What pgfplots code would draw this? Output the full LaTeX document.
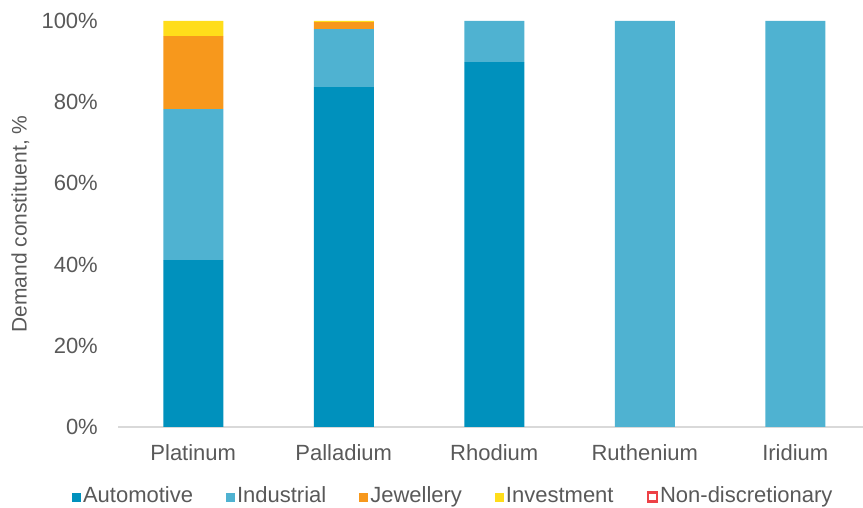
\documentclass[border=0pt]{standalone}
\usepackage{fontspec}
\setmainfont{Liberation Sans}
\usepackage{pgfplots}
\pgfplotsset{compat=1.18}
\definecolor{auto}{RGB}{0,145,189}
\definecolor{indus}{RGB}{79,178,209}
\definecolor{jewel}{RGB}{247,152,28}
\definecolor{invest}{RGB}{255,221,26}
\definecolor{nondis}{RGB}{237,65,70}
\definecolor{txt}{RGB}{89,89,89}
\definecolor{base}{RGB}{217,217,217}
\begin{document}
\begin{tikzpicture}
\useasboundingbox (0,0) rectangle (863bp,508bp);
\begin{axis}[
  at={(118bp,81bp)}, anchor=south west,
  scale only axis, width=745bp, height=406bp,
  ybar stacked, bar width=60bp,
  xmin=-0.5, xmax=4.45, ymin=0, ymax=100,
  xtick={0,1,2,3,4},
  xticklabels={Platinum,Palladium,Rhodium,Ruthenium,Iridium},
  ytick={0,20,40,60,80,100},
  yticklabel={\pgfmathprintnumber{\tick}\%},
  /pgf/number format/assume math mode=true,
  major tick length=0pt,
  axis y line*=left,
  y axis line style={draw=none},
  axis x line*=bottom,
  x axis line style={base, line width=1.2bp, -},
  tick label style={txt, font=\fontsize{22bp}{25bp}\selectfont},
  yticklabel style={anchor=east, inner sep=0pt, xshift=-20bp},
  xticklabel style={anchor=north, inner sep=0pt, yshift=-17bp},
  ylabel={Demand constituent, \%},
  label style={font=\fontsize{21bp}{24bp}\selectfont},
  ylabel style={txt, at={(axis description cs:-0.131,0.5)}, anchor=center, rotate=0},
  legend columns=5,
  legend style={draw=none, fill=none, at={(0.45,-0.177)}, anchor=center,
    text=txt, font=\fontsize{22bp}{25bp}\selectfont,
    nodes={text depth=0.3ex, text height=1.7ex},
    /tikz/every even column/.append style={column sep=31bp},
    /tikz/every odd column/.append style={column sep=0bp},
    inner sep=0pt},
  legend cell align=left,
  legend image code/.code={\fill[#1] (0bp,-2.5bp) rectangle (9bp,6.5bp);},
]
\addplot[fill=auto, draw=none] coordinates {(0,41.1) (1,83.7) (2,89.9) (3,0) (4,0)};
\addplot[fill=indus, draw=none] coordinates {(0,37.2) (1,14.3) (2,10.1) (3,100) (4,100)};
\addplot[fill=jewel, draw=none] coordinates {(0,18.0) (1,1.7) (2,0) (3,0) (4,0)};
\addplot[fill=invest, draw=none] coordinates {(0,3.7) (1,0.3) (2,0) (3,0) (4,0)};
\legend{Automotive,Industrial,Jewellery,Investment}
\addlegendimage{legend image code/.code={\draw[nondis, line width=2.5bp, fill=white] (0.5bp,-2.5bp) rectangle (9.5bp,6.5bp);}}
\addlegendentry{Non-discretionary}
\end{axis}
\end{tikzpicture}
\end{document}
